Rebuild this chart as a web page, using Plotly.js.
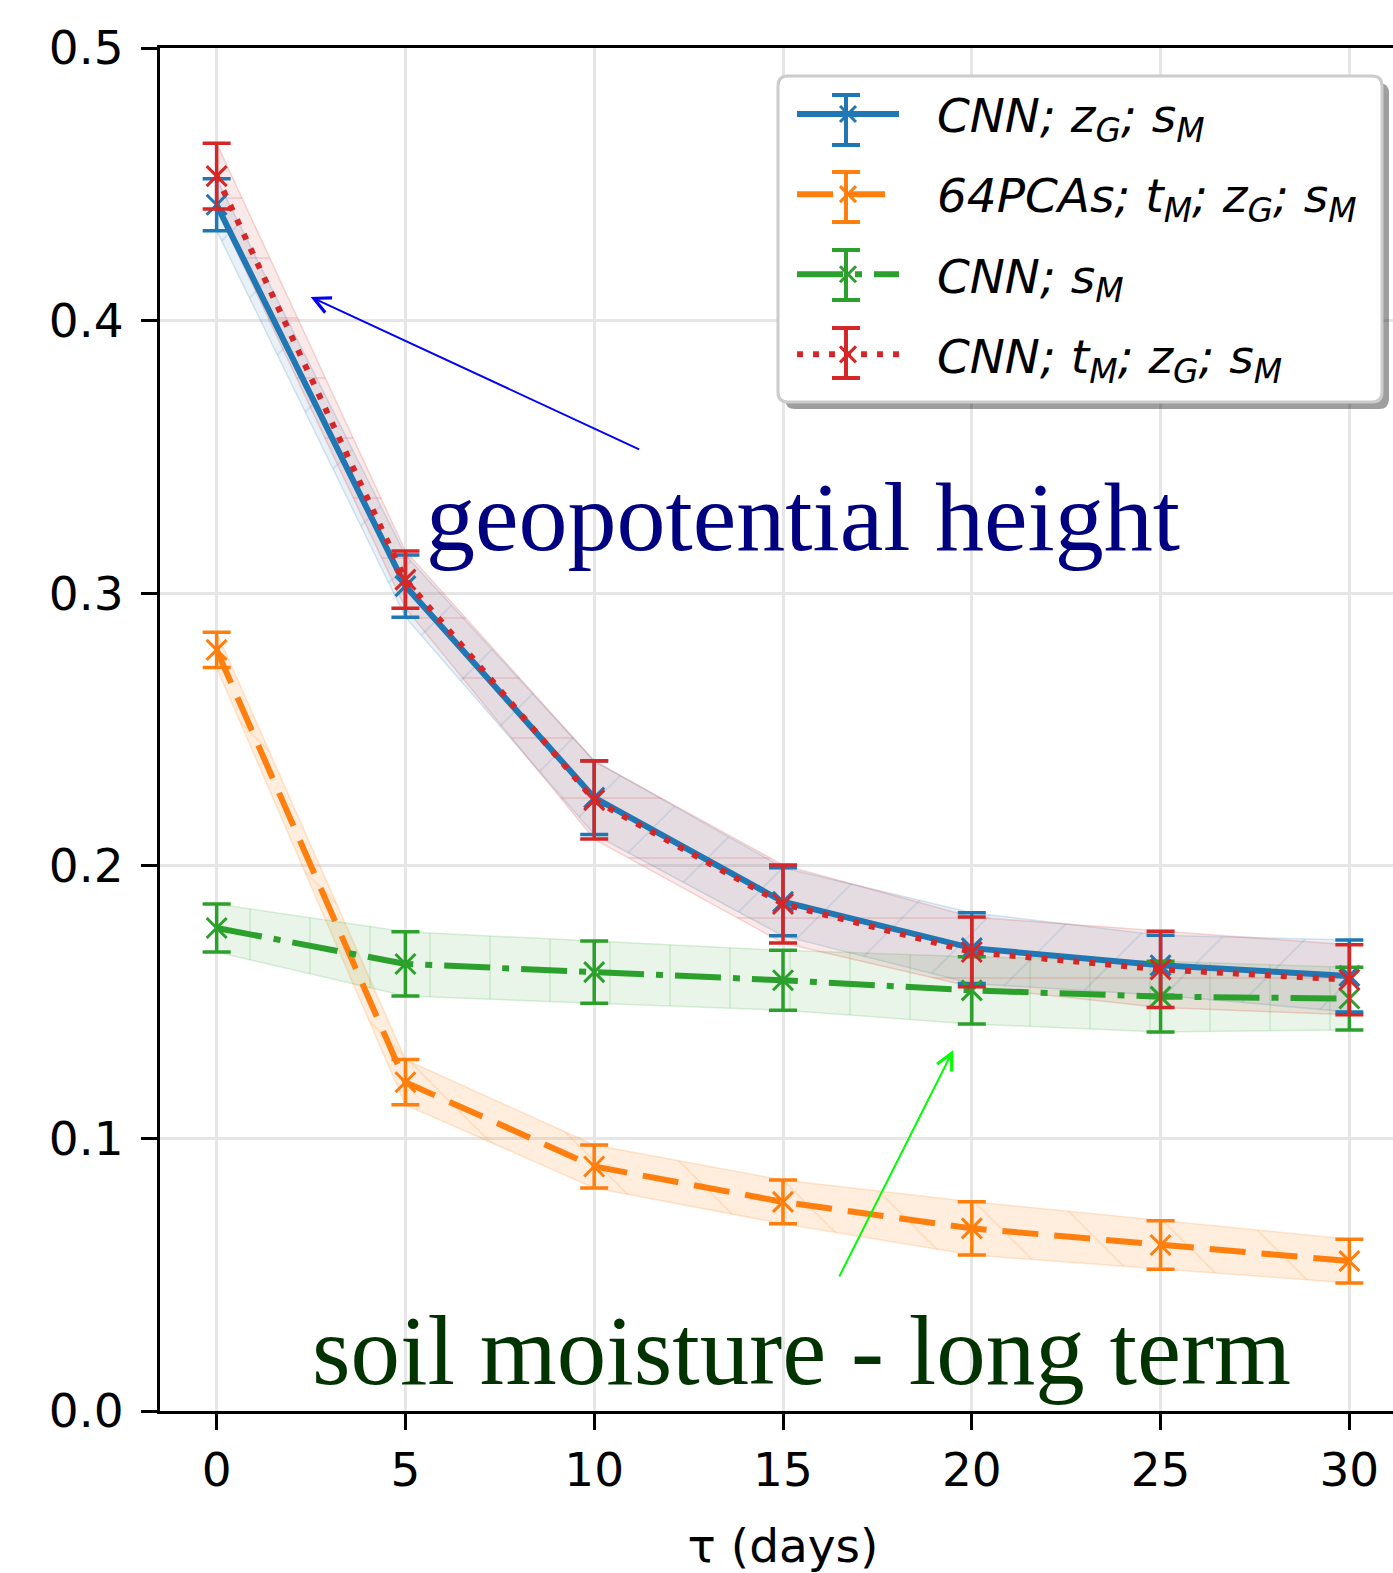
<!DOCTYPE html>
<html>
<head>
<meta charset="utf-8">
<script src="https://cdn.plot.ly/plotly-3.0.1.min.js"></script>
<style>
html,body{margin:0;padding:0;overflow:hidden;background:#fff;}
#chart{width:1420px;height:1573px;}
</style>
</head>
<body>
<div id="chart"></div>
<script>
// ---- data ----
const tau = [0, 5, 10, 15, 20, 25, 30];
const xTicks = [0, 5, 10, 15, 20, 25, 30];
const yTicks = [0.0, 0.1, 0.2, 0.3, 0.4, 0.5];
const yTickText = ['0.0', '0.1', '0.2', '0.3', '0.4', '0.5'];

const cnnZgSm      = [0.4425, 0.3026, 0.2250, 0.1868, 0.1698, 0.1635, 0.1596];
const cnnZgSmErr   = [0.0095, 0.0114, 0.0135, 0.0125, 0.0130, 0.0110, 0.0132];

const pcaTmZgSm    = [0.2792, 0.1206, 0.0897, 0.0767, 0.0670, 0.0609, 0.0550];
const pcaTmZgSmErr = [0.0065, 0.0083, 0.0079, 0.0080, 0.0098, 0.0089, 0.0080];

const cnnSm        = [0.1772, 0.1640, 0.1610, 0.1580, 0.1543, 0.1520, 0.1513];
const cnnSmErr     = [0.0088, 0.0118, 0.0114, 0.0110, 0.0123, 0.0130, 0.0115];

const cnnTmZgSm    = [0.4530, 0.3050, 0.2241, 0.1860, 0.1684, 0.1620, 0.1582];
const cnnTmZgSmErr = [0.0121, 0.0105, 0.0143, 0.0143, 0.0128, 0.0140, 0.0128];

const pre = '\u2002\u2009';
const names = [
  pre + '<i>CNN; z<sub>G</sub>; s<sub>M</sub></i>',
  pre + '<i>64PCAs; t<sub>M</sub>; z<sub>G</sub>; s<sub>M</sub></i>',
  pre + '<i>CNN; s<sub>M</sub></i>',
  pre + '<i>CNN; t<sub>M</sub>; z<sub>G</sub>; s<sub>M</sub></i>'
];
const colors = ['#1f77b4', '#ff7f0e', '#2ca02c', '#d62728'];
const bandFill = ['rgba(31,119,180,0.10)', 'rgba(255,127,14,0.14)', 'rgba(44,160,44,0.11)', 'rgba(214,39,40,0.10)'];
const bandEdge = ['rgba(31,119,180,0.18)', 'rgba(255,127,14,0.18)', 'rgba(44,160,44,0.16)', 'rgba(214,39,40,0.18)'];
const hatch = ['/', '\\', '|', '-'];
const dashes = ['solid', '36px,16px', '46px,12px,7px,12px', '6px,10px'];
const groups = ['g1', 'g2', 'g3', 'g4'];
const means = [cnnZgSm, pcaTmZgSm, cnnSm, cnnTmZgSm];
const errs = [cnnZgSmErr, pcaTmZgSmErr, cnnSmErr, cnnTmZgSmErr];

const traces = [];
// bands (mean +/- error)
for (let k = 0; k < 4; k++) {
  const lo = means[k].map((v, i) => v - errs[k][i]);
  const hi = means[k].map((v, i) => v + errs[k][i]);
  traces.push({x: tau, y: lo, mode: 'lines', line: {color: bandEdge[k], width: 1.5},
    legendgroup: groups[k], showlegend: false, hoverinfo: 'skip'});
  traces.push({x: tau, y: hi, mode: 'lines', line: {color: bandEdge[k], width: 1.5},
    fill: 'tonexty', fillcolor: bandFill[k],
    fillpattern: {shape: hatch[k], fgcolor: bandEdge[k], bgcolor: bandFill[k], size: 60, solidity: 0.025},
    legendgroup: groups[k], showlegend: false, hoverinfo: 'skip'});
}
// lines with error bars
for (let k = 0; k < 4; k++) {
  traces.push({
    x: tau, y: means[k], name: names[k], mode: 'lines+markers', legendgroup: groups[k],
    line: {color: colors[k], width: 6, dash: dashes[k]},
    marker: {symbol: 'x-thin', size: 20, line: {color: colors[k], width: 3}, color: colors[k]},
    error_y: {type: 'data', array: errs[k], visible: true, color: colors[k], thickness: 3.5, width: 14}
  });
}

// plot area in px: left 160, right 1406, top 48, bottom 1411
const PL = 160, PR = 1406, PT = 48, PB = 1411;
const px2paperX = p => (p - PL) / (PR - PL);
const px2paperY = p => (PB - p) / (PB - PT);

function roundRect(x0, y0, x1, y1, r) {
  // pixel box -> paper path with rounded corners
  const X = px2paperX, Y = px2paperY;
  return 'M' + X(x0 + r) + ',' + Y(y0) +
    ' L' + X(x1 - r) + ',' + Y(y0) + ' Q' + X(x1) + ',' + Y(y0) + ' ' + X(x1) + ',' + Y(y0 + r) +
    ' L' + X(x1) + ',' + Y(y1 - r) + ' Q' + X(x1) + ',' + Y(y1) + ' ' + X(x1 - r) + ',' + Y(y1) +
    ' L' + X(x0 + r) + ',' + Y(y1) + ' Q' + X(x0) + ',' + Y(y1) + ' ' + X(x0) + ',' + Y(y1 - r) +
    ' L' + X(x0) + ',' + Y(y0 + r) + ' Q' + X(x0) + ',' + Y(y0) + ' ' + X(x0 + r) + ',' + Y(y0) + ' Z';
}

// legend frame and error-bar glyphs (decoration)
const LEG = {x0: 778, y0: 76, x1: 1382, y1: 402};
const legendRows = [120, 197, 275, 353];
const glyphX = 846;
const shapes = [
  {type: 'path', xref: 'paper', yref: 'paper', layer: 'above',
   path: roundRect(LEG.x0 + 7, LEG.y0 + 7, LEG.x1 + 7, LEG.y1 + 7, 10),
   fillcolor: 'rgba(0,0,0,0.38)', line: {width: 0}},
  {type: 'path', xref: 'paper', yref: 'paper', layer: 'above',
   path: roundRect(LEG.x0, LEG.y0, LEG.x1, LEG.y1, 10),
   fillcolor: '#ffffff', line: {color: '#cccccc', width: 3}}
];
legendRows.forEach((cy, k) => {
  const seg = (xa, ya, xb, yb) => ({type: 'line', xref: 'paper', yref: 'paper', layer: 'above',
    x0: px2paperX(xa), y0: px2paperY(ya), x1: px2paperX(xb), y1: px2paperY(yb),
    line: {color: colors[k], width: 4}});
  shapes.push(seg(glyphX, cy - 25, glyphX, cy + 25));
  shapes.push(seg(glyphX - 14, cy - 25, glyphX + 14, cy - 25));
  shapes.push(seg(glyphX - 14, cy + 25, glyphX + 14, cy + 25));
});

const layout = {
  width: 1420, height: 1573,
  margin: {l: PL, r: 1420 - PR, t: PT, b: 1573 - PB, pad: 0},
  paper_bgcolor: '#fff', plot_bgcolor: '#fff',
  font: {family: 'DejaVu Sans', size: 47, color: '#000'},
  showlegend: true,
  xaxis: {
    range: [-1.5, 31.5], tickvals: xTicks, ticktext: xTicks.map(String),
    showgrid: true, gridcolor: '#e6e6e6', gridwidth: 3,
    showline: true, linecolor: '#000', linewidth: 3, mirror: true,
    ticks: 'outside', ticklen: 16, tickwidth: 3, tickcolor: '#000',
    tickfont: {family: 'DejaVu Sans', size: 47, color: '#000'},
    zeroline: false,
    title: {text: '\u03c4 (days)', font: {family: 'DejaVu Sans', size: 47, color: '#000'}, standoff: 37}
  },
  yaxis: {
    range: [0, 0.5], tickvals: yTicks, ticktext: yTickText,
    showgrid: true, gridcolor: '#e6e6e6', gridwidth: 3,
    showline: true, linecolor: '#000', linewidth: 3, mirror: true,
    ticks: 'outside', ticklen: 16, tickwidth: 3, tickcolor: '#000',
    ticklabelstandoff: 8,
    tickfont: {family: 'DejaVu Sans', size: 47, color: '#000'},
    zeroline: false
  },
  legend: {
    x: px2paperX(LEG.x0), y: px2paperY(LEG.y0 + 1), xanchor: 'left', yanchor: 'top',
    bgcolor: 'rgba(0,0,0,0)', borderwidth: 0,
    font: {family: 'DejaVu Sans', size: 47, color: '#000'},
    traceorder: 'grouped', tracegroupgap: 16,
    itemwidth: 102, indentation: 14
  },
  shapes: shapes,
  annotations: [
    {x: 5.5, y: 0.3280, xref: 'x', yref: 'y', xanchor: 'left', yanchor: 'middle',
     text: 'geopotential height', showarrow: false,
     font: {family: 'Liberation Serif', size: 98, color: '#000080'}},
    {x: 2.48, y: 0.0222, xref: 'x', yref: 'y', xanchor: 'left', yanchor: 'middle',
     text: 'soil moisture - long term', showarrow: false,
     font: {family: 'Liberation Serif', size: 99, color: '#003300'}},
    {x: 2.49, y: 0.4087, ax: 11.23, ay: 0.3525, xref: 'x', yref: 'y', axref: 'x', ayref: 'y',
     text: '', showarrow: true, arrowhead: 5, arrowsize: 1.6, arrowwidth: 2, arrowcolor: '#0000ff'},
    {x: 19.51, y: 0.1324, ax: 16.47, ay: 0.0488, xref: 'x', yref: 'y', axref: 'x', ayref: 'y',
     text: '', showarrow: true, arrowhead: 5, arrowsize: 1.6, arrowwidth: 2, arrowcolor: '#00ff00'}
  ]
};

Plotly.newPlot('chart', traces, layout, {displayModeBar: false, staticPlot: true});
</script>
</body>
</html>
